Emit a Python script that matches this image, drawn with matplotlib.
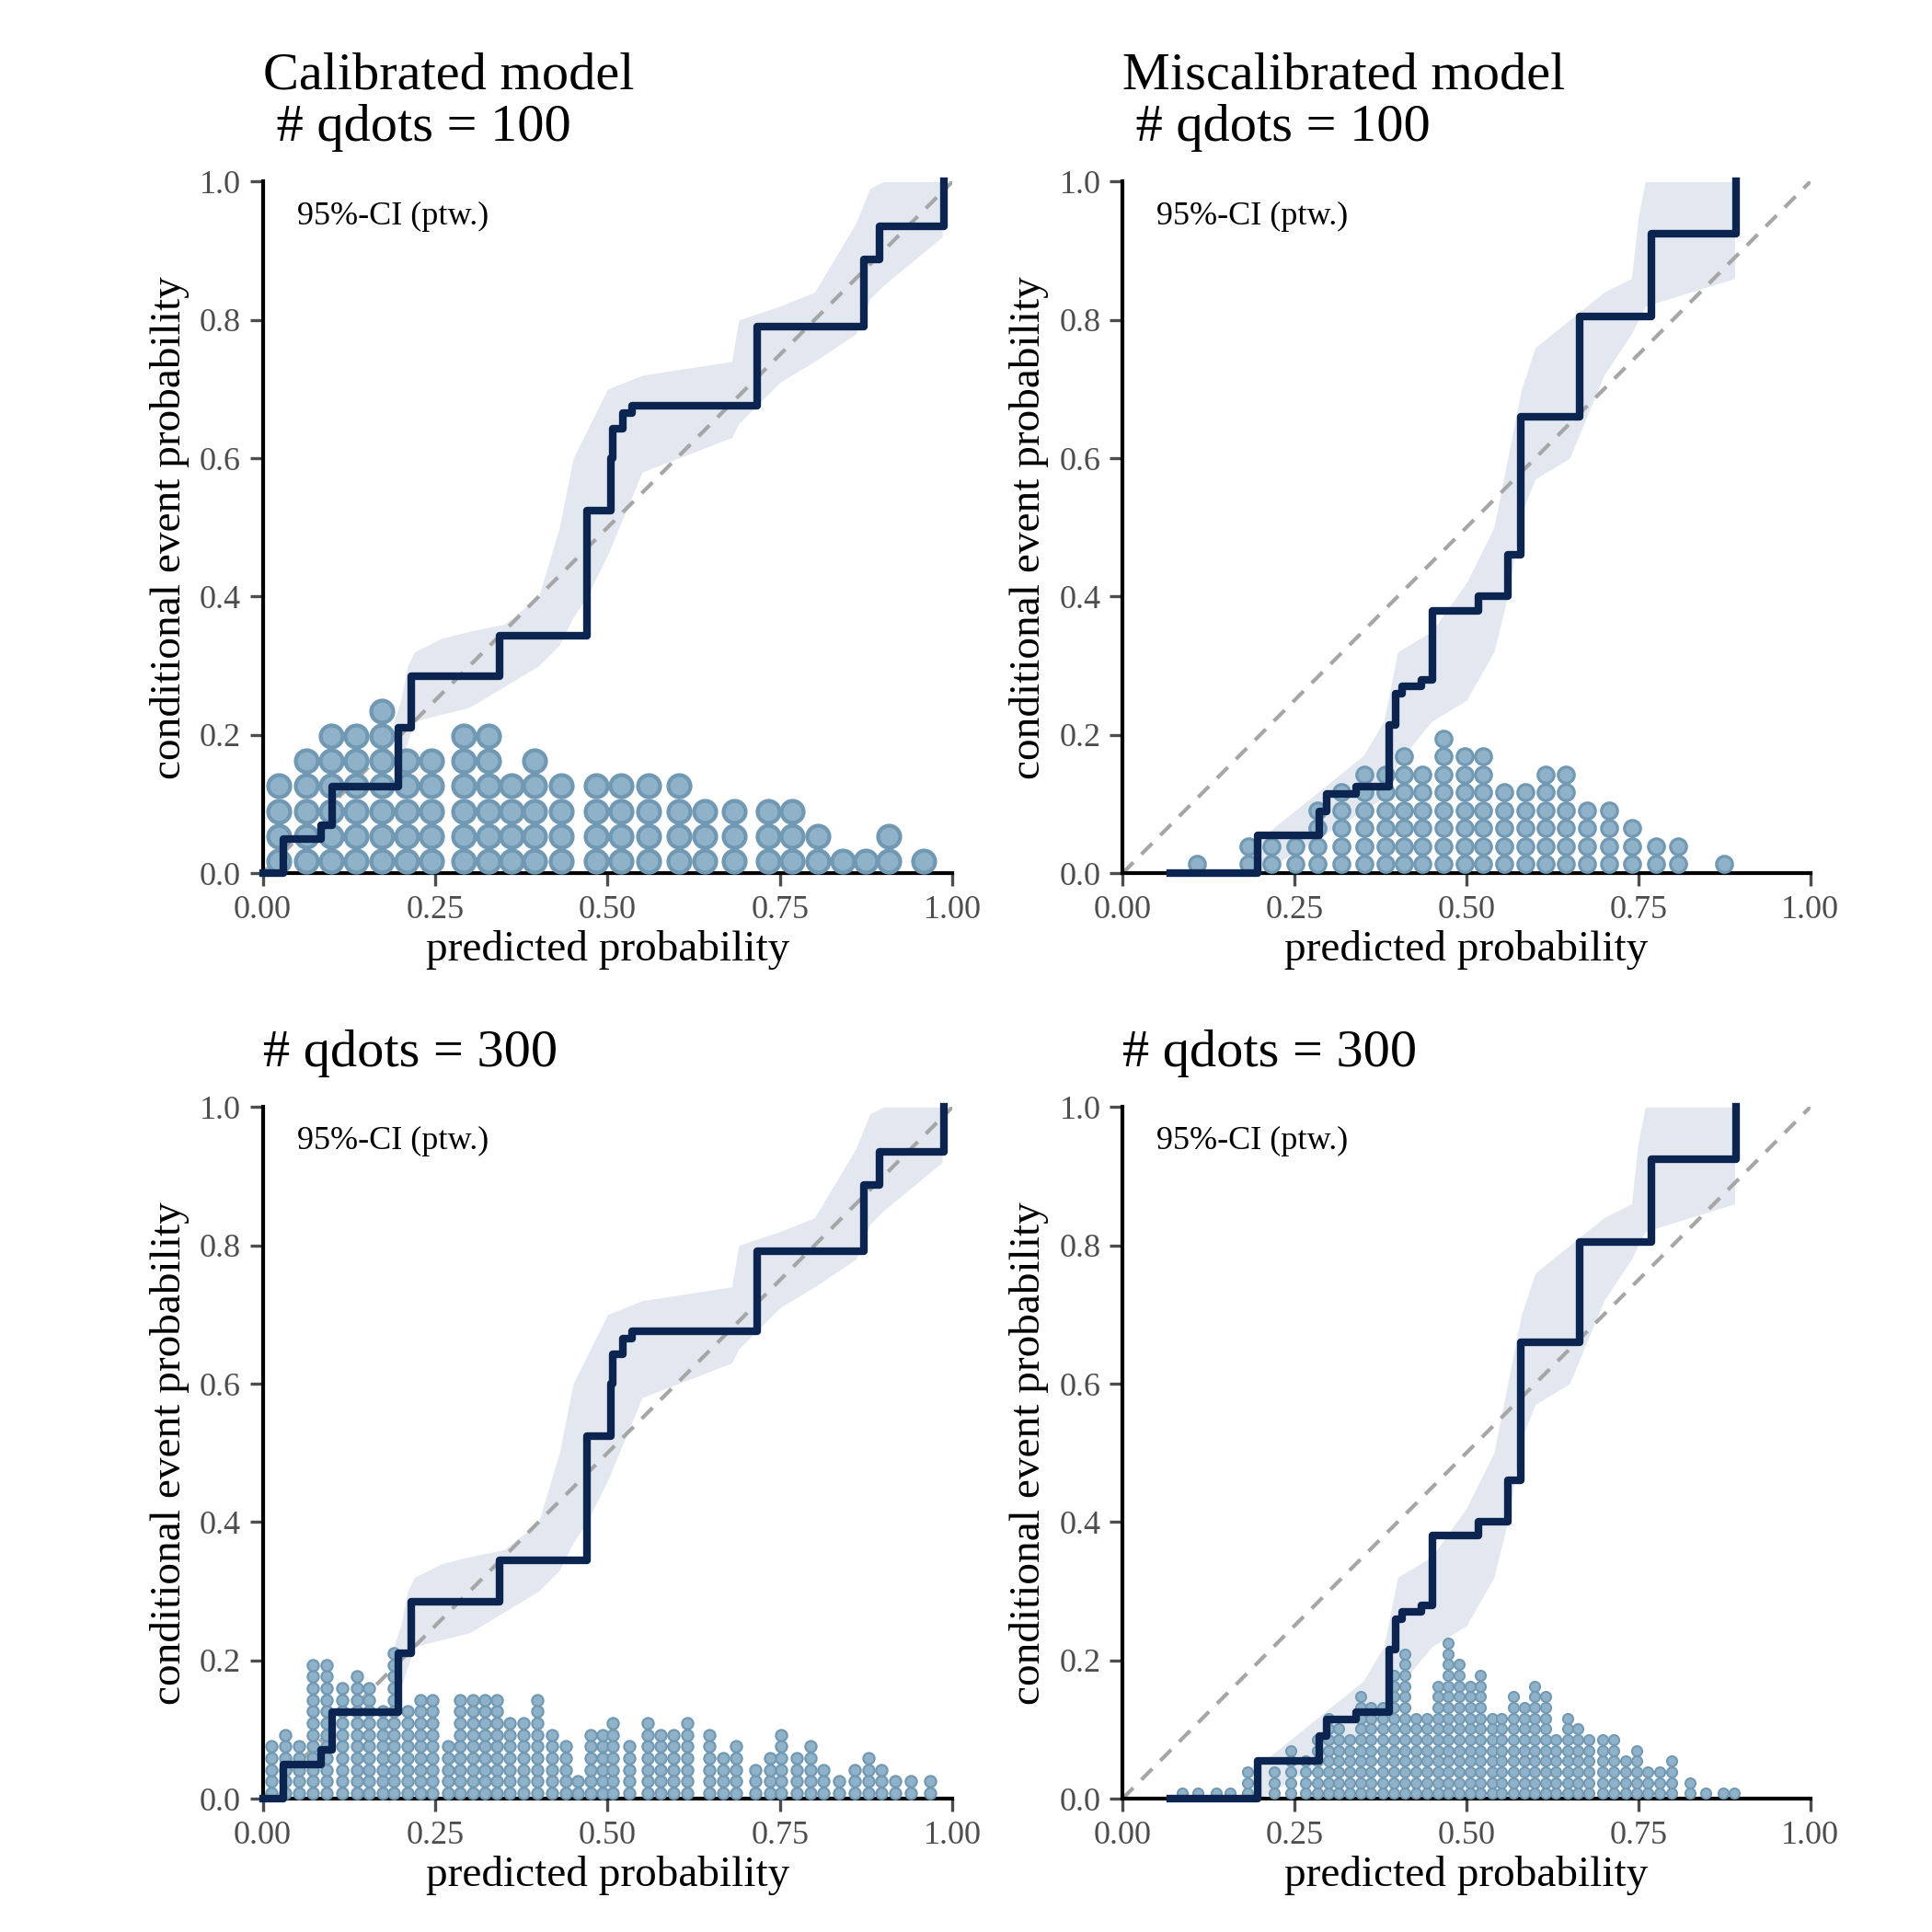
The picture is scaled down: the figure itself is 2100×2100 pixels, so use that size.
import numpy as np
import matplotlib.pyplot as plt

plt.rcParams['font.family'] = ['Liberation Serif', 'DejaVu Serif']

# calibrated model: step function of conditional event probability
cal_x = [0, 0.03, 0.085, 0.10, 0.197, 0.215, 0.343, 0.47, 0.505, 0.508, 0.522, 0.536, 0.717, 0.872, 0.894, 0.987]
cal_y = [0, 0.05, 0.07, 0.125, 0.21, 0.285, 0.344, 0.524, 0.60, 0.643, 0.665, 0.676, 0.791, 0.888, 0.935, 1.0]
cal_band_x = [0.19, 0.20, 0.21, 0.22, 0.26, 0.30, 0.35, 0.40, 0.43, 0.45, 0.47, 0.50, 0.55, 0.68, 0.69, 0.75, 0.80, 0.86, 0.88, 0.90, 0.985]
cal_band_lo = [0.12, 0.16, 0.19, 0.22, 0.23, 0.24, 0.27, 0.30, 0.33, 0.37, 0.40, 0.46, 0.58, 0.63, 0.65, 0.71, 0.74, 0.78, 0.83, 0.85, 0.92]
cal_band_hi = [0.22, 0.25, 0.30, 0.32, 0.34, 0.35, 0.36, 0.40, 0.50, 0.60, 0.64, 0.70, 0.72, 0.74, 0.80, 0.82, 0.84, 0.94, 0.99, 1.0, 1.0]

# miscalibrated model
mis_x = [0.07, 0.197, 0.286, 0.297, 0.34, 0.388, 0.397, 0.406, 0.434, 0.45, 0.517, 0.56, 0.579, 0.665, 0.769, 0.892]
mis_y = [0, 0.055, 0.09, 0.115, 0.125, 0.215, 0.26, 0.27, 0.28, 0.38, 0.40, 0.46, 0.66, 0.805, 0.925, 1.0]
mis_band_x = [0.20, 0.25, 0.30, 0.35, 0.38, 0.40, 0.45, 0.50, 0.54, 0.56, 0.58, 0.60, 0.65, 0.70, 0.74, 0.75, 0.76, 0.89]
mis_band_lo = [0.0, 0.03, 0.06, 0.09, 0.11, 0.16, 0.22, 0.25, 0.32, 0.40, 0.52, 0.57, 0.60, 0.72, 0.78, 0.80, 0.82, 0.86]
mis_band_hi = [0.05, 0.09, 0.13, 0.17, 0.22, 0.32, 0.35, 0.42, 0.50, 0.60, 0.70, 0.76, 0.80, 0.84, 0.86, 0.95, 1.0, 1.0]

# quantile dots: column positions and dot counts
cal100_x = [0.023, 0.063, 0.099, 0.135, 0.173, 0.209, 0.245, 0.291, 0.327, 0.361, 0.394, 0.433, 0.484,
            0.52, 0.56, 0.603, 0.641, 0.684, 0.733, 0.767, 0.805, 0.841, 0.874, 0.908, 0.958]
cal100_n = [4, 5, 6, 6, 7, 5, 5, 6, 6, 4, 5, 4, 4, 4, 4, 4, 3, 3, 3, 3, 2, 1, 1, 2, 1]

mis100_x = [0.108, 0.183, 0.217, 0.251, 0.284, 0.318, 0.351, 0.382, 0.409, 0.436, 0.467, 0.497, 0.524,
            0.555, 0.586, 0.615, 0.644, 0.676, 0.707, 0.741, 0.776, 0.808, 0.875]
mis100_n = [1, 2, 2, 2, 4, 5, 6, 6, 7, 6, 8, 7, 7, 5, 5, 6, 6, 4, 4, 3, 2, 2, 1]

cal300_x = [0.012, 0.033, 0.053, 0.073, 0.093, 0.115, 0.137, 0.154, 0.174, 0.19, 0.21, 0.228, 0.246,
            0.268, 0.286, 0.304, 0.322, 0.34, 0.358, 0.378, 0.398, 0.419, 0.439, 0.457, 0.475, 0.493,
            0.508, 0.531, 0.558, 0.577, 0.596, 0.616, 0.648, 0.667, 0.686, 0.714, 0.735, 0.752, 0.774,
            0.794, 0.813, 0.836, 0.858, 0.878, 0.897, 0.917, 0.94, 0.967]
cal300_n = [5, 6, 5, 12, 12, 10, 11, 10, 8, 13, 8, 9, 9, 5, 9, 9, 9, 9, 7, 7, 9, 6, 5, 2, 6, 6,
            7, 5, 7, 6, 6, 7, 6, 4, 5, 3, 4, 6, 4, 5, 3, 2, 3, 4, 3, 2, 2, 2]

mis300_x = [0.087, 0.110, 0.136, 0.157, 0.182, 0.221, 0.245, 0.266, 0.283, 0.299, 0.314, 0.330, 0.346,
            0.361, 0.378, 0.395, 0.411, 0.427, 0.442, 0.458, 0.474, 0.489, 0.505, 0.520, 0.537, 0.551,
            0.568, 0.584, 0.599, 0.615, 0.630, 0.647, 0.662, 0.678, 0.698, 0.714, 0.731, 0.748, 0.763,
            0.781, 0.798, 0.825, 0.848, 0.873, 0.890]
mis300_n = [1, 1, 1, 1, 3, 3, 5, 4, 6, 8, 7, 6, 10, 9, 9, 12, 14, 8, 8, 11, 15, 13, 11, 12, 8, 8,
            10, 9, 11, 10, 6, 8, 7, 6, 6, 6, 4, 5, 3, 3, 4, 2, 1, 1, 1]

panels = [
    ("Calibrated model\n # qdots = 100", cal_x, cal_y, cal_band_x, cal_band_lo, cal_band_hi, cal100_x, cal100_n, 0.036, 8.6),
    ("Miscalibrated model\n # qdots = 100", mis_x, mis_y, mis_band_x, mis_band_lo, mis_band_hi, mis100_x, mis100_n, 0.026, 6.3),
    ("# qdots = 300", cal_x, cal_y, cal_band_x, cal_band_lo, cal_band_hi, cal300_x, cal300_n, 0.0168, 4.4),
    ("# qdots = 300", mis_x, mis_y, mis_band_x, mis_band_lo, mis_band_hi, mis300_x, mis300_n, 0.0155, 4.0),
]
boxes = [[0.136, 0.548, 0.357, 0.358], [0.581, 0.548, 0.356, 0.358],
         [0.136, 0.069, 0.357, 0.358], [0.581, 0.069, 0.356, 0.358]]

fig = plt.figure(figsize=(10.5, 10.5), dpi=200)
for box, (title, sx, sy, bx, blo, bhi, dx, dn, dh, ms) in zip(boxes, panels):
    ax = fig.add_axes(box)
    ax.fill_between(bx, blo, bhi, color='#e3e8f0', lw=0, zorder=1)
    ax.plot([0, 1], [0, 1], ls=(0, (4, 3)), color='#a6a6a6', lw=1.5, zorder=2)
    px, py = [], []
    for x, n in zip(dx, dn):
        for k in range(n):
            px.append(x)
            py.append((k + 0.5) * dh)
    ax.plot(px, py, 'o', ms=ms, color='#8fb2c8', mec='#7199b3', mew=ms * 0.18, zorder=3, clip_on=False)
    ax.step(sx + [sx[-1]], sy + [sy[-1]], where='post', color='#0c2450', lw=3, zorder=4, clip_on=False)
    ax.set_xlim(0, 1)
    ax.set_ylim(0, 1)
    ax.set_xticks([0, 0.25, 0.5, 0.75, 1.0], ['0.00', '0.25', '0.50', '0.75', '1.00'])
    ax.set_yticks([0, 0.2, 0.4, 0.6, 0.8, 1.0], ['0.0', '0.2', '0.4', '0.6', '0.8', '1.0'])
    ax.tick_params(labelsize=13, colors='#4d4d4d', width=1.2, length=5)
    for s in ['top', 'right']:
        ax.spines[s].set_visible(False)
    for s in ['left', 'bottom']:
        ax.spines[s].set_linewidth(1.5)
    ax.set_xlabel('predicted probability', fontsize=17, labelpad=2)
    ax.set_ylabel('conditional event probability', fontsize=17, labelpad=4)
    ax.set_title(title, loc='left', fontsize=21, pad=16, linespacing=1.1)
    ax.text(0.05, 0.95, '95%-CI (ptw.)', transform=ax.transAxes, fontsize=13, va='center')

fig.savefig('out.png')
